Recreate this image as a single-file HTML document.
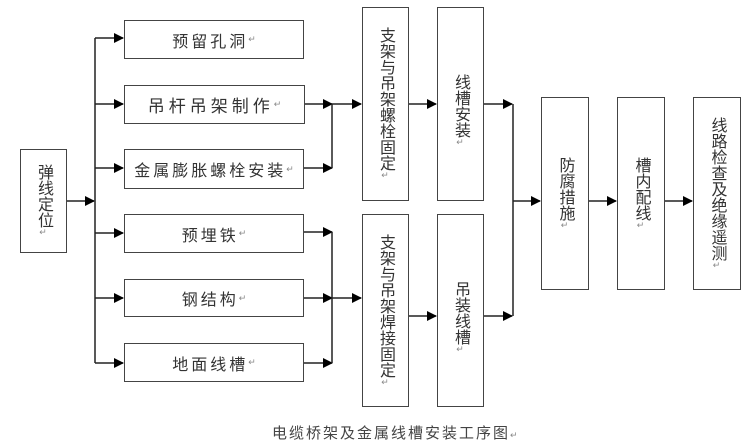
<!DOCTYPE html>
<html><head><meta charset="utf-8"><style>
body{margin:0;background:#fff;width:751px;height:447px;overflow:hidden;position:relative;font-family:"Liberation Sans","Noto Sans CJK SC",sans-serif;color:#333}
.b{position:absolute;border:1.5px solid #444;box-sizing:border-box;background:#fff}
.h{display:flex;align-items:center;justify-content:center;font-size:16px;letter-spacing:3px}
.v{display:flex;justify-content:center;font-size:16px;line-height:17px;writing-mode:vertical-rl;text-orientation:upright;align-items:center}
.r{font-size:9px;color:#888;letter-spacing:0}
svg{position:absolute;left:0;top:0}
.cap{position:absolute;left:272px;top:422px;font-size:15px;letter-spacing:2px;color:#444}
</style></head><body>
<svg width="751" height="447">
<defs><marker id="a" markerWidth="10" markerHeight="10" refX="9" refY="5" orient="auto" markerUnits="userSpaceOnUse"><path d="M0,0L10,5L0,10z" fill="#000"/></marker></defs>
<g stroke="#222" stroke-width="1.5" fill="none">
<line x1="66" y1="201" x2="94" y2="201" marker-end="url(#a)"/>
<line x1="95" y1="38" x2="95" y2="363"/>
<line x1="95" y1="38" x2="123" y2="38" marker-end="url(#a)"/>
<line x1="95" y1="104" x2="123" y2="104" marker-end="url(#a)"/>
<line x1="95" y1="168" x2="123" y2="168" marker-end="url(#a)"/>
<line x1="95" y1="233" x2="123" y2="233" marker-end="url(#a)"/>
<line x1="95" y1="298" x2="123" y2="298" marker-end="url(#a)"/>
<line x1="95" y1="363" x2="123" y2="363" marker-end="url(#a)"/>
<line x1="304" y1="104" x2="332" y2="104" marker-end="url(#a)"/>
<line x1="304" y1="168" x2="332" y2="168" marker-end="url(#a)"/>
<line x1="332" y1="104" x2="332" y2="168"/>
<line x1="332" y1="104" x2="361" y2="104" marker-end="url(#a)"/>
<line x1="304" y1="232" x2="332" y2="232" marker-end="url(#a)"/>
<line x1="304" y1="298" x2="332" y2="298" marker-end="url(#a)"/>
<line x1="304" y1="363" x2="332" y2="363" marker-end="url(#a)"/>
<line x1="332" y1="232" x2="332" y2="363"/>
<line x1="332" y1="298" x2="361" y2="298" marker-end="url(#a)"/>
<line x1="409" y1="104" x2="436" y2="104" marker-end="url(#a)"/>
<line x1="409" y1="316" x2="436" y2="316" marker-end="url(#a)"/>
<line x1="484" y1="104" x2="512" y2="104" marker-end="url(#a)"/>
<line x1="484" y1="316" x2="512" y2="316" marker-end="url(#a)"/>
<line x1="513" y1="104" x2="513" y2="316"/>
<line x1="513" y1="201" x2="540" y2="201" marker-end="url(#a)"/>
<line x1="589" y1="201" x2="616" y2="201" marker-end="url(#a)"/>
<line x1="665" y1="201" x2="692" y2="201" marker-end="url(#a)"/>
</g></svg>
<div class="b v" style="left:20px;top:149px;width:47px;height:104px">弹线定位<span class="r">↵</span></div>
<div class="b h" style="left:124px;top:20px;width:180px;height:39px">预留孔洞<span class="r">↵</span></div>
<div class="b h" style="left:124px;top:85px;width:181px;height:39px;font-size:17px;letter-spacing:4px">吊杆吊架制作<span class="r">↵</span></div>
<div class="b h" style="left:124px;top:149px;width:180px;height:40px">金属膨胀螺栓安装<span class="r">↵</span></div>
<div class="b h" style="left:124px;top:214px;width:180px;height:39px">预埋铁<span class="r">↵</span></div>
<div class="b h" style="left:124px;top:279px;width:180px;height:38px">钢结构<span class="r">↵</span></div>
<div class="b h" style="left:124px;top:343px;width:180px;height:39px">地面线槽<span class="r">↵</span></div>
<div class="b v" style="left:362px;top:7px;width:47px;height:194px">支架与吊架螺栓固定<span class="r">↵</span></div>
<div class="b v" style="left:362px;top:214px;width:47px;height:193px">支架与吊架焊接固定<span class="r">↵</span></div>
<div class="b v" style="left:437px;top:7px;width:47px;height:194px;justify-content:flex-start;padding-top:66px">线槽安装<span class="r">↵</span></div>
<div class="b v" style="left:437px;top:214px;width:47px;height:193px;justify-content:flex-start;padding-top:66px">吊装线槽<span class="r">↵</span></div>
<div class="b v" style="left:541px;top:97px;width:48px;height:193px">防腐措施<span class="r">↵</span></div>
<div class="b v" style="left:617px;top:97px;width:48px;height:193px">槽内配线<span class="r">↵</span></div>
<div class="b v" style="left:693px;top:97px;width:48px;height:193px">线路检查及绝缘遥测<span class="r">↵</span></div>
<div class="cap">电缆桥架及金属线槽安装工序图<span class="r">↵</span></div>
</body></html>
